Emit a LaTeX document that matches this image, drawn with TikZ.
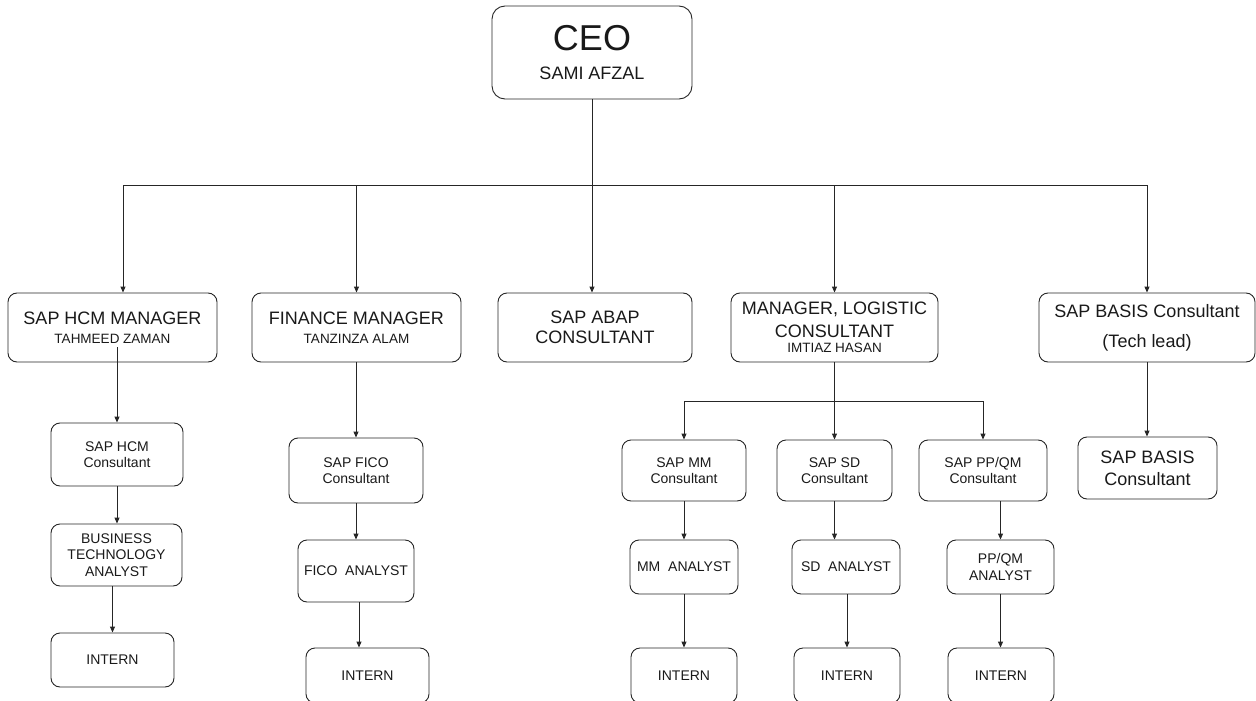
\documentclass[tikz,border=0pt]{standalone}
\usepackage{fontspec}
\setmainfont{Liberation Sans}
\usetikzlibrary{arrows.meta}
\newcommand\fs[2]{\fontsize{#1}{#2}\selectfont}
\tikzset{
 box/.style={draw=black!85, line width=0.9pt, rounded corners=9pt, align=center, inner sep=0pt, text=black!90},
 arr/.style={draw=black!85, line width=0.9pt, -{Triangle[length=6pt,width=5pt]}},
 ln/.style={draw=black!85, line width=0.9pt},
 small/.style={font=\fs{14}{16.5}},
}
\begin{document}
\begin{tikzpicture}[x=1pt,y=-1pt]
\useasboundingbox (0,0) rectangle (1256,701);
% CEO
\node[box, rounded corners=13pt, minimum width=200pt, minimum height=93pt, font=\fs{18}{29}] (ceo) at (592,52.5) {{\fs{36}{29}CEO}\\SAMI AFZAL};
% level 2
\node[box, minimum width=209pt, minimum height=69pt, font=\fs{18}{18.5}] (hcm) at (112.5,327.5) {SAP HCM MANAGER\\{\fs{13.5}{18.5}TAHMEED ZAMAN}};
\node[box, minimum width=209pt, minimum height=69pt, font=\fs{18}{18.5}] (fin) at (356.5,327.5) {FINANCE MANAGER\\{\fs{13.5}{18.5}TANZINZA ALAM}};
\node[box, minimum width=194pt, minimum height=69pt, font=\fs{18}{20}] (abap) at (595,327.5) {SAP ABAP\\CONSULTANT};
\node[box, minimum width=207pt, minimum height=69pt, font=\fs{18}{23}] (log) at (834.5,327.5) {MANAGER, LOGISTIC\\CONSULTANT\\[-7.5pt]{\fs{13.5}{23}IMTIAZ HASAN}};
\node[box, minimum width=216pt, minimum height=69pt, font=\fs{18}{30}] (basis) at (1147,327.5) {SAP BASIS Consultant\\(Tech lead)};
% HCM column
\node[box, small, minimum width=132pt, minimum height=63pt] (hcmc) at (117,454.5) {SAP HCM\\Consultant};
\node[box, small, minimum width=131pt, minimum height=62pt] (bta) at (116.5,555) {BUSINESS\\TECHNOLOGY\\ANALYST};
\node[box, small, minimum width=123pt, minimum height=54pt] (int1) at (112.5,660) {INTERN};
% Finance column
\node[box, small, minimum width=134pt, minimum height=65pt] (ficoc) at (356,470.5) {SAP FICO\\Consultant};
\node[box, small, minimum width=116pt, minimum height=62pt] (ficoa) at (356,571) {FICO\ \ ANALYST};
\node[box, small, minimum width=123pt, minimum height=55pt] (int2) at (367.5,675.5) {INTERN};
% Logistic columns
\node[box, small, minimum width=124pt, minimum height=61pt] (mmc) at (684,470.5) {SAP MM\\Consultant};
\node[box, small, minimum width=115pt, minimum height=61pt] (sdc) at (834.5,470.5) {SAP SD\\Consultant};
\node[box, small, minimum width=128pt, minimum height=61pt] (ppc) at (983,470.5) {SAP PP/QM\\Consultant};
\node[box, small, minimum width=108pt, minimum height=54pt] (mma) at (684,567) {MM\ \ ANALYST};
\node[box, small, minimum width=108pt, minimum height=54pt] (sda) at (846,567) {SD\ \ ANALYST};
\node[box, small, minimum width=107pt, minimum height=54pt] (ppa) at (1000.5,567) {PP/QM\\ANALYST};
\node[box, small, minimum width=106pt, minimum height=55pt] (mmi) at (684,675.5) {INTERN};
\node[box, small, minimum width=106pt, minimum height=55pt] (sdi) at (847,675.5) {INTERN};
\node[box, small, minimum width=106pt, minimum height=55pt] (ppi) at (1001,675.5) {INTERN};
% Basis column
\node[box, minimum width=139pt, minimum height=62pt, font=\fs{18}{22}] (bc) at (1147.5,468) {SAP BASIS\\Consultant};
% connectors from CEO
\path (ceo.south) ++(0,86) coordinate (bus);
\draw[ln] (ceo.south) -- (bus);
\draw[arr] (bus) -- (abap.north -| bus);
\draw[arr] (bus) -| ([xshift=10.5pt]hcm.north);
\draw[arr] (bus) -| (fin.north);
\draw[arr] (bus) -| (log.north);
\draw[arr] (bus) -| (basis.north);
% HCM
\draw[arr] ([yshift=15pt]hcm.south -| hcmc.north) -- (hcmc.north);
\draw[arr] (hcmc.south) -- (hcmc.south |- bta.north);
\draw[arr] (bta.south -| int1.north) -- (int1.north);
% Finance
\draw[arr] (fin.south -| ficoc.north) -- (ficoc.north);
\draw[arr] (ficoc.south) -- (ficoa.north);
\draw[arr] ([xshift=3pt]ficoa.south) -- ([xshift=3pt]ficoa.south |- int2.north);
% Logistic
\path (log.south) ++(0,39) coordinate (lbus);
\draw[ln] (log.south) -- (lbus);
\draw[arr] (lbus) -- (lbus |- sdc.north);
\draw[arr] (lbus) -| (mmc.north);
\draw[arr] (lbus) -| (ppc.north);
\draw[arr] (mmc.south) -- (mma.north);
\draw[arr] (sdc.south) -- (sdc.south |- sda.north);
\draw[arr] (ppc.south -| ppa.north) -- (ppa.north);
\draw[arr] (mma.south) -- (mma.south |- mmi.north);
\draw[arr] (sda.south -| sdi.north) -- (sdi.north);
\draw[arr] (ppa.south) -- (ppa.south |- ppi.north);
% Basis
\draw[arr] (basis.south) -- (basis.south |- bc.north);
\end{tikzpicture}
\end{document}
